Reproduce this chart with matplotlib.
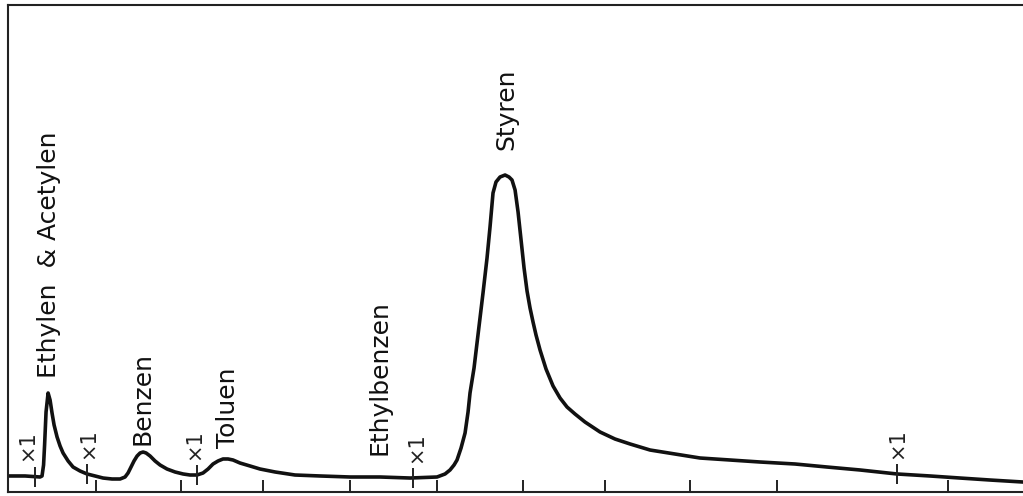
import numpy as np
import matplotlib
matplotlib.use("Agg")
import matplotlib.pyplot as plt

# retention time (tick spacing ~ 1) and detector signal (% of full scale)
time = [-0.03, 0.170, 0.345, 0.368, 0.386, 0.398, 0.415, 0.439, 0.462, 0.485,
        0.509, 0.544, 0.579, 0.614, 0.673, 0.731, 0.813, 0.895, 0.988, 1.082,
        1.187, 1.281, 1.339, 1.374, 1.409, 1.444, 1.480, 1.515, 1.550, 1.585,
        1.632, 1.690, 1.749, 1.830, 1.924, 2.018, 2.099, 2.181, 2.251, 2.310,
        2.368, 2.427, 2.485, 2.544, 2.602, 2.684, 2.801, 2.918, 3.094, 3.327,
        3.620, 3.971, 4.322, 4.673, 4.988, 5.082, 5.140, 5.187, 5.222, 5.269,
        5.316, 5.351, 5.374, 5.421, 5.456, 5.491, 5.526, 5.573, 5.608, 5.643,
        5.678, 5.725, 5.784, 5.830, 5.865, 5.901, 5.936, 5.971, 6.006, 6.041,
        6.076, 6.111, 6.146, 6.193, 6.263, 6.345, 6.427, 6.509, 6.602, 6.719,
        6.895, 7.070, 7.246, 7.480, 7.772, 8.064, 8.415, 8.766, 9.175, 9.550,
        9.936, 10.368, 10.754, 11.105, 11.456, 11.842]
signal = [3.29, 3.29, 3.08, 3.29, 5.54, 9.65, 16.43, 20.33, 18.89, 16.22,
          13.76, 11.29, 9.45, 8.01, 6.37, 5.13, 4.31, 3.70, 3.29, 2.87,
          2.67, 2.67, 3.08, 3.90, 5.13, 6.37, 7.39, 8.01, 8.21, 8.01,
          7.39, 6.37, 5.54, 4.72, 4.11, 3.70, 3.49, 3.49, 3.90, 4.72,
          5.75, 6.37, 6.78, 6.78, 6.57, 5.95, 5.34, 4.72, 4.11, 3.49,
          3.29, 3.08, 3.08, 2.87, 3.08, 3.70, 4.52, 5.54, 6.57, 9.03,
          12.11, 16.43, 20.33, 25.46, 30.60, 35.73, 40.86, 48.05, 54.41, 61.40,
          63.66, 64.68, 65.09, 64.68, 64.07, 62.01, 57.49, 51.75, 46.00, 41.27,
          37.78, 34.91, 32.24, 29.16, 25.26, 21.77, 19.30, 17.45, 16.02, 14.37,
          12.32, 10.88, 9.86, 8.62, 7.80, 6.98, 6.57, 6.16, 5.75, 5.13,
          4.52, 3.70, 3.29, 2.87, 2.46, 2.05]

# peak labels
peak_names = ["Ethylen  & Acetylen", "Benzen", "Toluen", "Ethylbenzen", "Styren"]
peak_label_t = [0.45, 1.54, 2.54, 4.32, 5.80]
peak_label_s = [23.4, 9.6, 9.0, 7.6, 70.2]

# attenuation marks "x1"
atten_t = [0.287, 0.895, 2.181, 4.708, 10.368]
atten_text = ["×1", "×1", "×1", "×1", "×1"]
atten_dx = [-6, 1, -2, 2, 0]

# time marks along the bottom (as read, one is missing on the chart)
tick_pos = [1.0, 1.994, 2.953, 3.971, 4.988, 5.994, 6.953, 7.947, 8.965, 10.965]

plt.rcParams['font.family'] = ['DejaVu Sans']

fig = plt.figure(figsize=(10.23, 4.96), dpi=100)
ax = fig.add_axes([8 / 1023, 4 / 496, 1 - 8 / 1023, 487 / 496])

ax.plot(time, signal, color="#111111", lw=2.6, solid_capstyle="round",
        solid_joinstyle="round")

# small vertical marks on the trace
atten_s = np.interp(atten_t, time, signal)
ax.plot(atten_t, atten_s, ls="none", marker="|", ms=15, mew=1.4, color="#222222")
for t, s, txt, dx in zip(atten_t, atten_s, atten_text, atten_dx):
    ax.annotate(txt, (t, s), xytext=(dx, 11), textcoords="offset points",
                rotation=90, ha="center", va="bottom", fontsize=15, color="#222222")

for name, t, s in zip(peak_names, peak_label_t, peak_label_s):
    ax.text(t, s, name, rotation=90, ha="center", va="bottom", fontsize=18, color="#111111")

ax.set_xlim(-0.03, 11.842)
ax.set_ylim(0, 100)
ax.set_xticks(tick_pos)
ax.set_xticklabels([])
ax.set_yticks([])
ax.tick_params(axis="x", direction="in", length=9, width=1.4, color="#222222")
ax.spines["right"].set_visible(False)
for side in ["left", "top", "bottom"]:
    ax.spines[side].set_linewidth(1.5)
    ax.spines[side].set_color("#222222")

fig.savefig("out.png", dpi=100)
